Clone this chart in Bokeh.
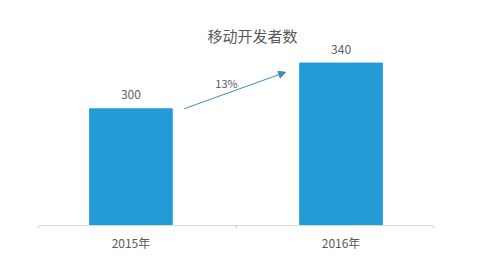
from bokeh.plotting import figure
from bokeh.models import FixedTicker, Label, Arrow, NormalHead, ColumnDataSource
from bokeh.core.properties import value
from bokeh.embed import file_html
from bokeh.resources import INLINE

# data
categories = ["2015年", "2016年"]
developers = [300, 340]
title_text = "移动开发者数"

FONT = "Noto Sans CJK SC"
GRAY = "#595959"
BAR = "#229bd6"

xs = list(range(len(categories)))
src = ColumnDataSource(dict(x=xs, top=developers, label=[str(v) for v in developers]))

p = figure(width=480, height=268, output_backend="svg", toolbar_location=None,
           x_range=(-0.44, 1.44), y_range=(198, 386),
           min_border_left=38, min_border_right=47, min_border_top=10, min_border_bottom=43)
p.outline_line_color = None
p.grid.visible = False
p.yaxis.visible = False
p.background_fill_color = "white"
p.border_fill_color = "white"

p.vbar(x="x", top="top", bottom=198, width=0.393, color=BAR, source=src)

p.text(x="x", y="top", text="label", source=src, text_align="center",
       text_baseline="middle", y_offset=-14, text_font=value(FONT),
       text_font_size="12px", text_color="#606060")

ax = p.xaxis[0]
ax.ticker = FixedTicker(ticks=xs, minor_ticks=[-0.44, 0.5, 1.44])
ax.major_label_overrides = {i: c for i, c in zip(xs, categories)}
ax.major_tick_line_color = None
ax.minor_tick_line_color = "#d0d0d0"
ax.minor_tick_out = 3
ax.minor_tick_in = 0
ax.axis_line_color = "#d9d9d9"
ax.major_label_text_font = FONT
ax.major_label_text_font_size = "12px"
ax.major_label_text_color = GRAY
ax.major_label_standoff = 2

# title
p.add_layout(Label(x=0.579, y=364, text=title_text, text_align="center",
                   text_baseline="middle", text_font=FONT, text_font_size="15px",
                   text_color=GRAY))

# growth arrow
growth = (developers[1] - developers[0]) / developers[0]
p.add_layout(Arrow(end=NormalHead(size=7, fill_color="#3d8dbf", line_color="#3d8dbf"),
                   x_start=xs[0] + 0.252, y_start=developers[0],
                   x_end=xs[1] - 0.264, y_end=developers[1] - 8,
                   line_color="#3d8dbf", line_width=1))
p.add_layout(Label(x=0.455, y=323, text=f"{growth:.0%}", text_align="center",
                   text_baseline="middle", text_font=FONT, text_font_size="11px",
                   text_color=GRAY))

open("out.html", "w").write(file_html(p, INLINE))
